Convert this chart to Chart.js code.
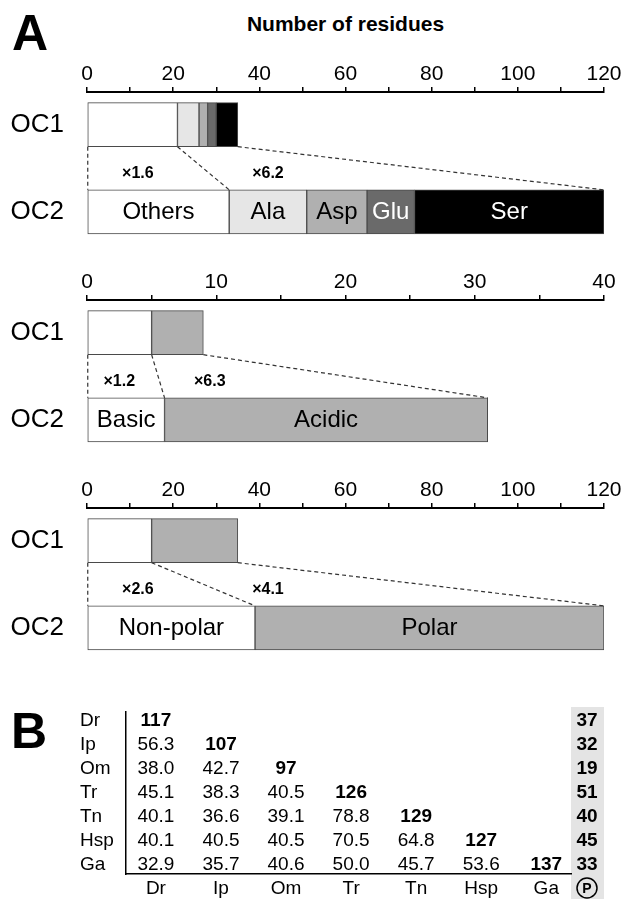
<!DOCTYPE html>
<html>
<head>
<meta charset="utf-8">
<script src="https://cdn.jsdelivr.net/npm/chart.js@4.4.1/dist/chart.umd.min.js"></script>
<style>
  html, body { margin: 0; padding: 0; background: #fff; }
  body { width: 624px; height: 899px; position: relative; overflow: hidden; font-family: "Liberation Sans", Arial, sans-serif; }
  .box { position: absolute; left: 0; width: 624px; }
  .letter { position: absolute; font-weight: bold; font-size: 50px; line-height: 1; }
  #title { position: absolute; left: 87px; width: 517px; top: 12px; text-align: center; font-weight: bold; font-size: 21px; }
</style>
</head>
<body>
<div class="letter" style="left:12px;top:8px">A</div>
<div id="title">Number of residues</div>
<div class="box" style="top:40px;height:198px"><canvas id="residueChart"></canvas></div>
<div class="box" style="top:248px;height:198px"><canvas id="chargeChart"></canvas></div>
<div class="box" style="top:456px;height:198px"><canvas id="polarityChart"></canvas></div>
<div class="letter" style="left:11px;top:706px">B</div>
<div class="box" style="top:690px;height:209px"><canvas id="identityChart"></canvas></div>

<script>
// ===== DATA =====
const categories = ["OC1", "OC2"];

// residue composition (number of residues)
const residueLabels = ["Others", "Ala", "Asp", "Glu", "Ser"];
const residueOC1 = [21, 5, 2, 2, 5];
const residueOC2 = [33, 18, 14, 11, 44];
const residueFold = ["×1.6", "×6.2"];

// charged residues
const chargeLabels = ["Basic", "Acidic"];
const chargeOC1 = [5, 4];
const chargeOC2 = [6, 25];
const chargeFold = ["×1.2", "×6.3"];

// polarity
const polarityLabels = ["Non-polar", "Polar"];
const polarityOC1 = [15, 20];
const polarityOC2 = [39, 81];
const polarityFold = ["×2.6", "×4.1"];

// panel B: identity matrix
const species = ["Dr", "Ip", "Om", "Tr", "Tn", "Hsp", "Ga"];
const diagonal = [117, 107, 97, 126, 129, 127, 137];
const identity = [
  [],
  [56.3],
  [38.0, 42.7],
  [45.1, 38.3, 40.5],
  [40.1, 36.6, 39.1, 78.8],
  [40.1, 40.5, 40.5, 70.5, 64.8],
  [32.9, 35.7, 40.6, 50.0, 45.7, 53.6]
];
const pCounts = [37, 32, 19, 51, 40, 45, 33];

// ===== STYLES =====
const FONT = "'Liberation Sans', Arial, sans-serif";
const residueFills = ["#ffffff", "#e6e6e6", "#b0b0b0", "#6a6a6a", "#000000"];
const residueInks = ["#000", "#000", "#000", "#fff", "#fff"];
const twoFills = ["#ffffff", "#b0b0b0"];
const twoInks = ["#000", "#000"];

// keep the axis' own label padding from shrinking the chart area
function noPad(s) {
  s.paddingTop = 0;
  s.paddingBottom = 0;
}

// dashed connectors, fold labels and segment names
const connectorPlugin = {
  id: "connectors",
  afterDatasetsDraw(chart, args, opts) {
    const ctx = chart.ctx;
    const n = chart.data.datasets.length;
    const first = chart.getDatasetMeta(0).data;
    const last = chart.getDatasetMeta(n - 1).data;
    const y1 = first[0].y + first[0].height / 2;
    const y2 = first[1].y - first[1].height / 2;

    ctx.save();
    ctx.setLineDash([4, 3]);
    ctx.strokeStyle = "#333";
    ctx.lineWidth = 1.2;
    [[first[0].base, first[1].base], [first[0].x, first[1].x], [last[0].x, last[1].x]].forEach(p => {
      ctx.beginPath();
      ctx.moveTo(p[0], y1);
      ctx.lineTo(p[1], y2);
      ctx.stroke();
    });
    ctx.setLineDash([]);

    // fold change labels
    ctx.font = "bold 16px " + FONT;
    ctx.fillStyle = "#000";
    ctx.textAlign = "center";
    ctx.textBaseline = "middle";
    opts.fold.forEach((t, i) => {
      ctx.fillText(t, chart.scales.x.getPixelForValue(opts.foldAt[i]), (y1 + y2) / 2 + 5);
    });

    // segment names in OC2 bar
    ctx.font = "24px " + FONT;
    chart.data.datasets.forEach((ds, i) => {
      const el = chart.getDatasetMeta(i).data[1];
      ctx.fillStyle = opts.inks[i];
      ctx.fillText(ds.label, (el.x + el.base) / 2, el.y + 1);
    });
    ctx.restore();
  }
};

function barPanel(id, labels, oc1, oc2, fills, inks, maxVal, step, labelStep, fold, foldAt) {
  return new Chart(document.getElementById(id), {
    type: "bar",
    data: {
      datasets: labels.map((name, i) => ({
        label: name,
        data: [{ x: oc1[i], y: 0 }, { x: oc2[i], y: 1 }],
        backgroundColor: fills[i],
        borderColor: "#4a4a4a",
        borderWidth: 1,
        borderSkipped: false,
        barThickness: 44
      }))
    },
    options: {
      indexAxis: "y",
      responsive: true,
      maintainAspectRatio: false,
      animation: false,
      layout: { padding: { top: 12, left: 0, right: 20, bottom: 0 } },
      plugins: {
        legend: { display: false },
        tooltip: { enabled: false },
        connectors: { fold: fold, foldAt: foldAt, inks: inks }
      },
      scales: {
        x: {
          type: "linear",
          position: "top",
          min: 0,
          max: maxVal,
          stacked: true,
          ticks: {
            stepSize: step,
            autoSkip: false,
            maxRotation: 0,
            padding: 0,
            color: "#000",
            font: { size: 21, family: FONT },
            callback: v => (v % labelStep === 0 ? v : "")
          },
          grid: { drawOnChartArea: false, drawTicks: true, tickLength: 5, color: "#000", lineWidth: 1.5 },
          border: { display: true, color: "#000", width: 2 },
          afterFit: s => { s.height = 40; }
        },
        y: {
          type: "linear",
          reverse: true,
          min: -0.375,
          max: 1.3,
          stacked: true,
          offset: false,
          afterBuildTicks: s => { s.ticks = categories.map((c, i) => ({ value: i })); },
          ticks: {
            padding: 23,
            color: "#000",
            font: { size: 26, family: FONT },
            callback: v => categories[v]
          },
          grid: { display: false, drawTicks: false },
          border: { display: false },
          afterFit: s => { s.width = 87; noPad(s); }
        }
      }
    },
    plugins: [connectorPlugin]
  });
}

barPanel("residueChart", residueLabels, residueOC1, residueOC2, residueFills, residueInks, 120, 10, 20, residueFold, [11.8, 42]);
barPanel("chargeChart", chargeLabels, chargeOC1, chargeOC2, twoFills, twoInks, 40, 5, 10, chargeFold, [2.5, 9.5]);
barPanel("polarityChart", polarityLabels, polarityOC1, polarityOC2, twoFills, twoInks, 120, 10, 20, polarityFold, [11.8, 42]);

// ===== PANEL B =====
const cells = [];
species.forEach((s, row) => {
  identity[row].forEach((v, col) => cells.push({ x: col, y: row, v: v.toFixed(1), bold: false }));
  cells.push({ x: row, y: row, v: String(diagonal[row]), bold: true });
});

const tablePlugin = {
  id: "tableText",
  beforeDraw(chart) {
    const { ctx, chartArea } = chart;
    ctx.save();
    ctx.fillStyle = "#e4e4e4";
    ctx.fillRect(chartArea.right, chartArea.top - 5, 33, chart.height - chartArea.top + 5);
    ctx.restore();
  },
  afterDatasetsDraw(chart) {
    const { ctx, chartArea, scales } = chart;
    const meta = chart.getDatasetMeta(0);
    ctx.save();
    ctx.textAlign = "center";
    ctx.textBaseline = "middle";
    ctx.fillStyle = "#000";
    meta.data.forEach((pt, i) => {
      const c = cells[i];
      ctx.font = (c.bold ? "bold " : "") + "19px " + FONT;
      ctx.fillText(c.v, pt.x, pt.y);
    });
    // P column
    const px = chartArea.right + 16;
    ctx.font = "bold 19px " + FONT;
    pCounts.forEach((v, row) => ctx.fillText(String(v), px, scales.y.getPixelForValue(row)));
    const py = chartArea.bottom + 14;
    ctx.lineWidth = 1.5;
    ctx.beginPath();
    ctx.arc(px, py, 10, 0, Math.PI * 2);
    ctx.stroke();
    ctx.font = "bold 14px " + FONT;
    ctx.fillText("P", px, py + 1);
    ctx.restore();
  }
};

new Chart(document.getElementById("identityChart"), {
  type: "scatter",
  data: {
    datasets: [{ data: cells.map(c => ({ x: c.x, y: c.y })), pointRadius: 0 }]
  },
  options: {
    responsive: true,
    maintainAspectRatio: false,
    animation: false,
    clip: false,
    layout: { padding: { top: 22, left: 80, right: 53, bottom: 0 } },
    plugins: { legend: { display: false }, tooltip: { enabled: false } },
    scales: {
      x: {
        type: "linear",
        position: "bottom",
        min: -0.46,
        max: 6.38,
        afterBuildTicks: s => { s.ticks = species.map((c, i) => ({ value: i })); },
        ticks: { autoSkip: false, maxRotation: 0, padding: 3, color: "#000", font: { size: 19, family: FONT }, callback: v => species[v] },
        grid: { drawOnChartArea: false, drawTicks: false },
        border: { display: true, color: "#000", width: 1.5 },
        afterFit: s => { s.height = 25; }
      },
      y: {
        type: "linear",
        reverse: true,
        min: -0.35,
        max: 6.38,
        afterBuildTicks: s => { s.ticks = species.map((c, i) => ({ value: i })); },
        ticks: { crossAlign: "far", padding: 0, color: "#000", font: { size: 19, family: FONT }, callback: v => species[v] },
        grid: { drawOnChartArea: false, drawTicks: false },
        border: { display: true, color: "#000", width: 1.5 },
        afterFit: s => { s.width = 46; noPad(s); }
      }
    }
  },
  plugins: [tablePlugin]
});
</script>
</body>
</html>
